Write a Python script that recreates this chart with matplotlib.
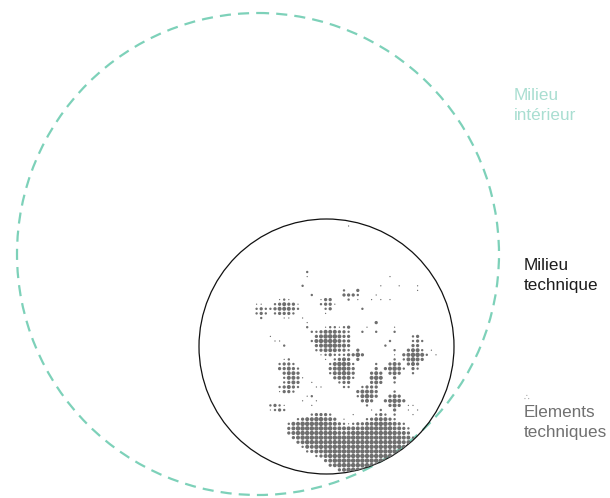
import matplotlib
matplotlib.use("Agg")
import matplotlib.pyplot as plt
from matplotlib.patches import Circle

plt.rcParams['font.family'] = ['Liberation Sans', 'DejaVu Sans']

# ---------------- data ----------------
label_lines = [["Milieu", "intérieur"], ["Milieu", "technique"], ["Elements", "techniques"]]
label_colors = ["#a9ded1", "#1c1c1c", "#707070"]

# halftone "elements techniques": (grid row, first grid column, dot sizes 0-5 per column)
halftone_segments = [
    (0, 21, "1"),
    (10, 12, "2"),
    (11, 12, "1"), (11, 30, "1"),
    (13, 11, "2"), (13, 28, "1"), (13, 32, "1"), (13, 36, "1"),
    (14, 20, "2"), (14, 23, "3"), (14, 36, "1"),
    (15, 13, "2"), (15, 20, "3332"), (15, 27, "1"),
    (16, 6, "121"), (16, 15, "133"), (16, 21, "201"), (16, 26, "1"), (16, 28, "1"), (16, 30, "1"),
    (17, 1, "11"), (17, 5, "234331"), (17, 15, "2331"),
    (18, 1, "2322344432"), (18, 16, "23"), (18, 24, "2"),
    (19, 1, "232"), (19, 5, "23332"), (19, 16, "1"),
    (20, 2, "2"), (20, 7, "11"), (20, 11, "1"),
    (21, 12, "1"), (21, 27, "3"),
    (22, 12, "2"), (22, 16, "122123"), (22, 25, "1"), (22, 31, "1"),
    (23, 13, "223444332"), (23, 24, "2"), (23, 27, "2"), (23, 31, "2"),
    (24, 4, "1"), (24, 14, "34555433"), (24, 35, "23"),
    (25, 5, "11"), (25, 13, "245555433"), (25, 30, "2"), (25, 35, "232"),
    (26, 7, "2"), (26, 14, "34555443"), (26, 29, "2"), (26, 35, "33"),
    (27, 14, "2344433203"), (27, 31, "2"), (27, 34, "3442"), (27, 39, "1"),
    (28, 15, "1232223353"), (28, 31, "1"), (28, 33, "345542"), (28, 40, "1"),
    (29, 7, "12"), (29, 16, "10234303"), (29, 31, "2024543"),
    (30, 6, "2332"), (30, 17, "245542"), (30, 27, "2"), (30, 30, "3430343"),
    (31, 6, "33432"), (31, 17, "345543"), (31, 27, "3034542032"),
    (32, 7, "3443"), (32, 17, "244543"), (32, 26, "3430343002"),
    (33, 7, "24431"), (33, 18, "34442"), (33, 26, "454003"),
    (34, 7, "2343"), (34, 13, "1"), (34, 19, "233"), (34, 26, "343002"),
    (35, 6, "23432"), (35, 14, "11"), (35, 20, "22002333"),
    (36, 6, "1332"), (36, 23, "34443"), (36, 31, "2"),
    (37, 12, "12"), (37, 23, "24543"), (37, 30, "343"),
    (38, 11, "1"), (38, 14, "1"), (38, 24, "3430034543"),
    (39, 4, "2321"), (39, 13, "1"), (39, 25, "2"), (39, 30, "343011"),
    (40, 4, "1232"), (40, 26, "10200300101"),
    (41, 13, "23332"), (41, 22, "1"), (41, 27, "232020001"),
    (42, 10, "234455443"), (42, 20, "1"), (42, 25, "2344432"),
    (43, 8, "2445555554432"), (43, 21, "1233445554432"),
    (44, 8, "34" "55555555" "4444444" "555555" "4432"),
    (45, 8, "34" "555555555" "444" "5555555555" "443"),
    (46, 9, "34" "5555555555" "5555555555" "55" "442"),
    (47, 10, "34" "5555555555" "5555555555" "5" "443"),
    (48, 11, "244" "5555555555" "555555555" "43"),
    (49, 12, "2344" "5555555555" "555555" "43"),
    (50, 14, "234" "5555555555" "5555" "43"),
    (51, 16, "34" "5555555555" "55" "4"),
    (52, 17, "34" "555555555" "4"),
    (53, 19, "34" "5555" "3"),
]

# ---------------- layout / style ----------------
W, H = 610, 498
GX0, GY0, GSTEP = 252.0, 226.0, 4.6
dot_diam_px = [0, 1.3, 2.4, 3.3, 4.0, 4.5]

fig = plt.figure(figsize=(W / 100, H / 100), dpi=100)
ax = fig.add_axes([0, 0, 1, 1])
ax.set_xlim(0, W)
ax.set_ylim(H, 0)
ax.axis('off')

outer = Circle((258, 254), 241, fill=False, ec='#7dd1b9', lw=1.6,
               ls=(0, (5.0, 3.2)))
ax.add_patch(outer)

inner = Circle((326.5, 346.5), 127.5, fill=False, ec='#111111', lw=0.9)
ax.add_patch(inner)

xs, ys, ss = [], [], []
for row, col, levels in halftone_segments:
    for k, ch in enumerate(levels):
        lv = int(ch)
        if lv:
            xs.append(GX0 + GSTEP * (col + k))
            ys.append(GY0 + GSTEP * row)
            ss.append((dot_diam_px[lv] * 72 / 100) ** 2)
sc = ax.scatter(xs, ys, s=ss, c='#6e6e6e', linewidths=0, marker='o', zorder=2)
sc.set_clip_path(inner)

label_pos = [(514, 100), (524, 270), (524, 417)]
for lines, col, (lx, ly) in zip(label_lines, label_colors, label_pos):
    for i, line in enumerate(lines):
        ax.text(lx, ly + 20 * i, line, color=col, fontsize=12.3,
                ha='left', va='baseline')

ax.text(524, 397, "∴", color='#9a9a9a', fontsize=6.5, family=['DejaVu Sans'],
        ha='left', va='center')

fig.savefig("out.png", dpi=100)
